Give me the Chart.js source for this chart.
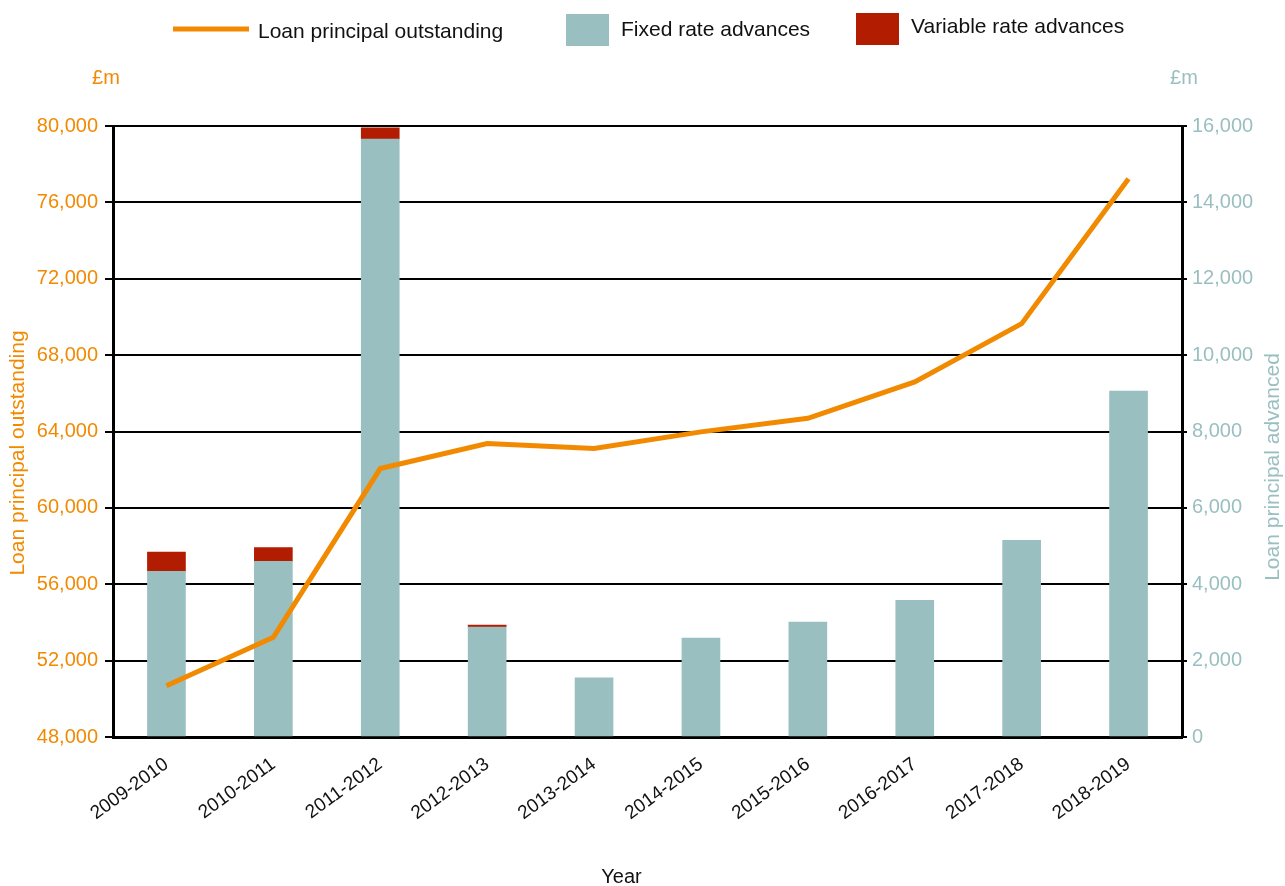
<!DOCTYPE html>
<html>
<head>
<meta charset="utf-8">
<title>Loan principal outstanding and advanced</title>
<script src="https://cdn.jsdelivr.net/npm/chart.js@4/dist/chart.umd.min.js"></script>
<style>
  html, body { margin: 0; padding: 0; background: #ffffff; }
  #wrap { width: 1285px; height: 886px; position: relative; }
</style>
</head>
<body>
<div id="wrap"><canvas id="chart" width="1285" height="886"></canvas></div>
<script>
// Financial years
const categories = ['2009-2010', '2010-2011', '2011-2012', '2012-2013', '2013-2014',
                    '2014-2015', '2015-2016', '2016-2017', '2017-2018', '2018-2019'];

// Loan principal outstanding, £m (left axis)
const outstanding = [50680, 53220, 62060, 63370, 63110, 63980, 64690, 66600, 69650, 77240];

// Loan principal advanced, £m (right axis, stacked); null = no variable-rate advances
const fixedRate    = [4340, 4600, 15660, 2880, 1550, 2590, 3010, 3580, 5150, 9060];
const variableRate = [500, 360, 290, 50, null, null, null, null, null, null];

// Axis ranges and tick steps
const leftAxis  = { min: 48000, max: 80000, step: 4000 };
const rightAxis = { min: 0, max: 16000, step: 2000 };

const ORANGE = '#F18A00';
const TEAL = '#9ABFC1';
const RED = '#B21C00';
const FONT = '"Liberation Sans", Arial, Helvetica, sans-serif';

// Legend row and free-standing axis captions
const captions = {
  id: 'captions',
  afterDraw(chart) {
    const ctx = chart.ctx;
    const ds = chart.data.datasets;
    const area = chart.chartArea;
    ctx.save();

    // legend
    ctx.font = '21px ' + FONT;
    ctx.textAlign = 'left';
    ctx.textBaseline = 'middle';
    ctx.fillStyle = '#111';

    ctx.strokeStyle = ds[0].borderColor;
    ctx.lineWidth = 5;
    ctx.beginPath();
    ctx.moveTo(173, 29);
    ctx.lineTo(249, 29);
    ctx.stroke();
    ctx.fillText(ds[0].label, 258, 32);

    ctx.fillStyle = ds[1].backgroundColor;
    ctx.fillRect(566, 14, 43, 32);
    ctx.fillStyle = '#111';
    ctx.fillText(ds[1].label, 621, 30);

    ctx.fillStyle = ds[2].backgroundColor;
    ctx.fillRect(856, 13, 43, 32);
    ctx.fillStyle = '#111';
    ctx.fillText(ds[2].label, 911, 27);

    // unit captions
    ctx.font = '20px ' + FONT;
    ctx.textAlign = 'center';
    ctx.fillStyle = ORANGE;
    ctx.fillText('£m', 106, 78);
    ctx.fillStyle = TEAL;
    ctx.fillText('£m', 1184, 78);

    // rotated axis titles
    ctx.font = '21px ' + FONT;
    ctx.save();
    ctx.translate(18, 453);
    ctx.rotate(-Math.PI / 2);
    ctx.fillStyle = ORANGE;
    ctx.fillText('Loan principal outstanding', 0, 0);
    ctx.restore();

    ctx.save();
    ctx.translate(1273, 467);
    ctx.rotate(-Math.PI / 2);
    ctx.fillStyle = TEAL;
    ctx.fillText('Loan principal advanced', 0, 0);
    ctx.restore();

    // x axis title
    ctx.fillStyle = '#111';
    ctx.font = '20px ' + FONT;
    ctx.fillText('Year', (area.left + area.right) / 2 - 26, 877);

    ctx.restore();
  }
};

new Chart(document.getElementById('chart'), {
  data: {
    labels: categories,
    datasets: [
      {
        type: 'line',
        label: 'Loan principal outstanding',
        data: outstanding,
        yAxisID: 'y',
        borderColor: ORANGE,
        backgroundColor: ORANGE,
        borderWidth: 5,
        pointRadius: 0,
        tension: 0,
        order: 0
      },
      {
        type: 'bar',
        label: 'Fixed rate advances',
        data: fixedRate,
        yAxisID: 'y1',
        backgroundColor: TEAL,
        stack: 'advances',
        barThickness: 38,
        order: 1
      },
      {
        type: 'bar',
        label: 'Variable rate advances',
        data: variableRate,
        yAxisID: 'y1',
        backgroundColor: RED,
        stack: 'advances',
        barThickness: 38,
        order: 2
      }
    ]
  },
  options: {
    responsive: false,
    animation: false,
    layout: { padding: { top: 126, left: 0, right: 0, bottom: 0 } },
    plugins: {
      legend: { display: false },
      tooltip: { enabled: false }
    },
    scales: {
      x: {
        stacked: true,
        grid: { display: false },
        border: { display: true, color: '#000', width: 3 },
        ticks: {
          color: '#111',
          font: { family: FONT, size: 19 },
          minRotation: 36,
          maxRotation: 36,
          padding: 8
        },
        afterFit(scale) { scale.height = 149; }
      },
      y: {
        position: 'left',
        min: leftAxis.min,
        max: leftAxis.max,
        grid: { color: '#000', lineWidth: 2, tickLength: 8, tickColor: '#000' },
        border: { display: true, color: '#000', width: 3 },
        ticks: {
          stepSize: leftAxis.step,
          color: ORANGE,
          font: { family: FONT, size: 20 },
          padding: 7
        },
        afterFit(scale) { scale.width = 113; }
      },
      y1: {
        position: 'right',
        stacked: true,
        min: rightAxis.min,
        max: rightAxis.max,
        grid: { drawOnChartArea: false, color: '#000', lineWidth: 2, tickLength: 5, tickColor: '#000' },
        border: { display: true, color: '#000', width: 3 },
        ticks: {
          stepSize: rightAxis.step,
          color: TEAL,
          font: { family: FONT, size: 20 },
          padding: 5
        },
        afterFit(scale) { scale.width = 103; }
      }
    }
  },
  plugins: [captions]
});
</script>
</body>
</html>
